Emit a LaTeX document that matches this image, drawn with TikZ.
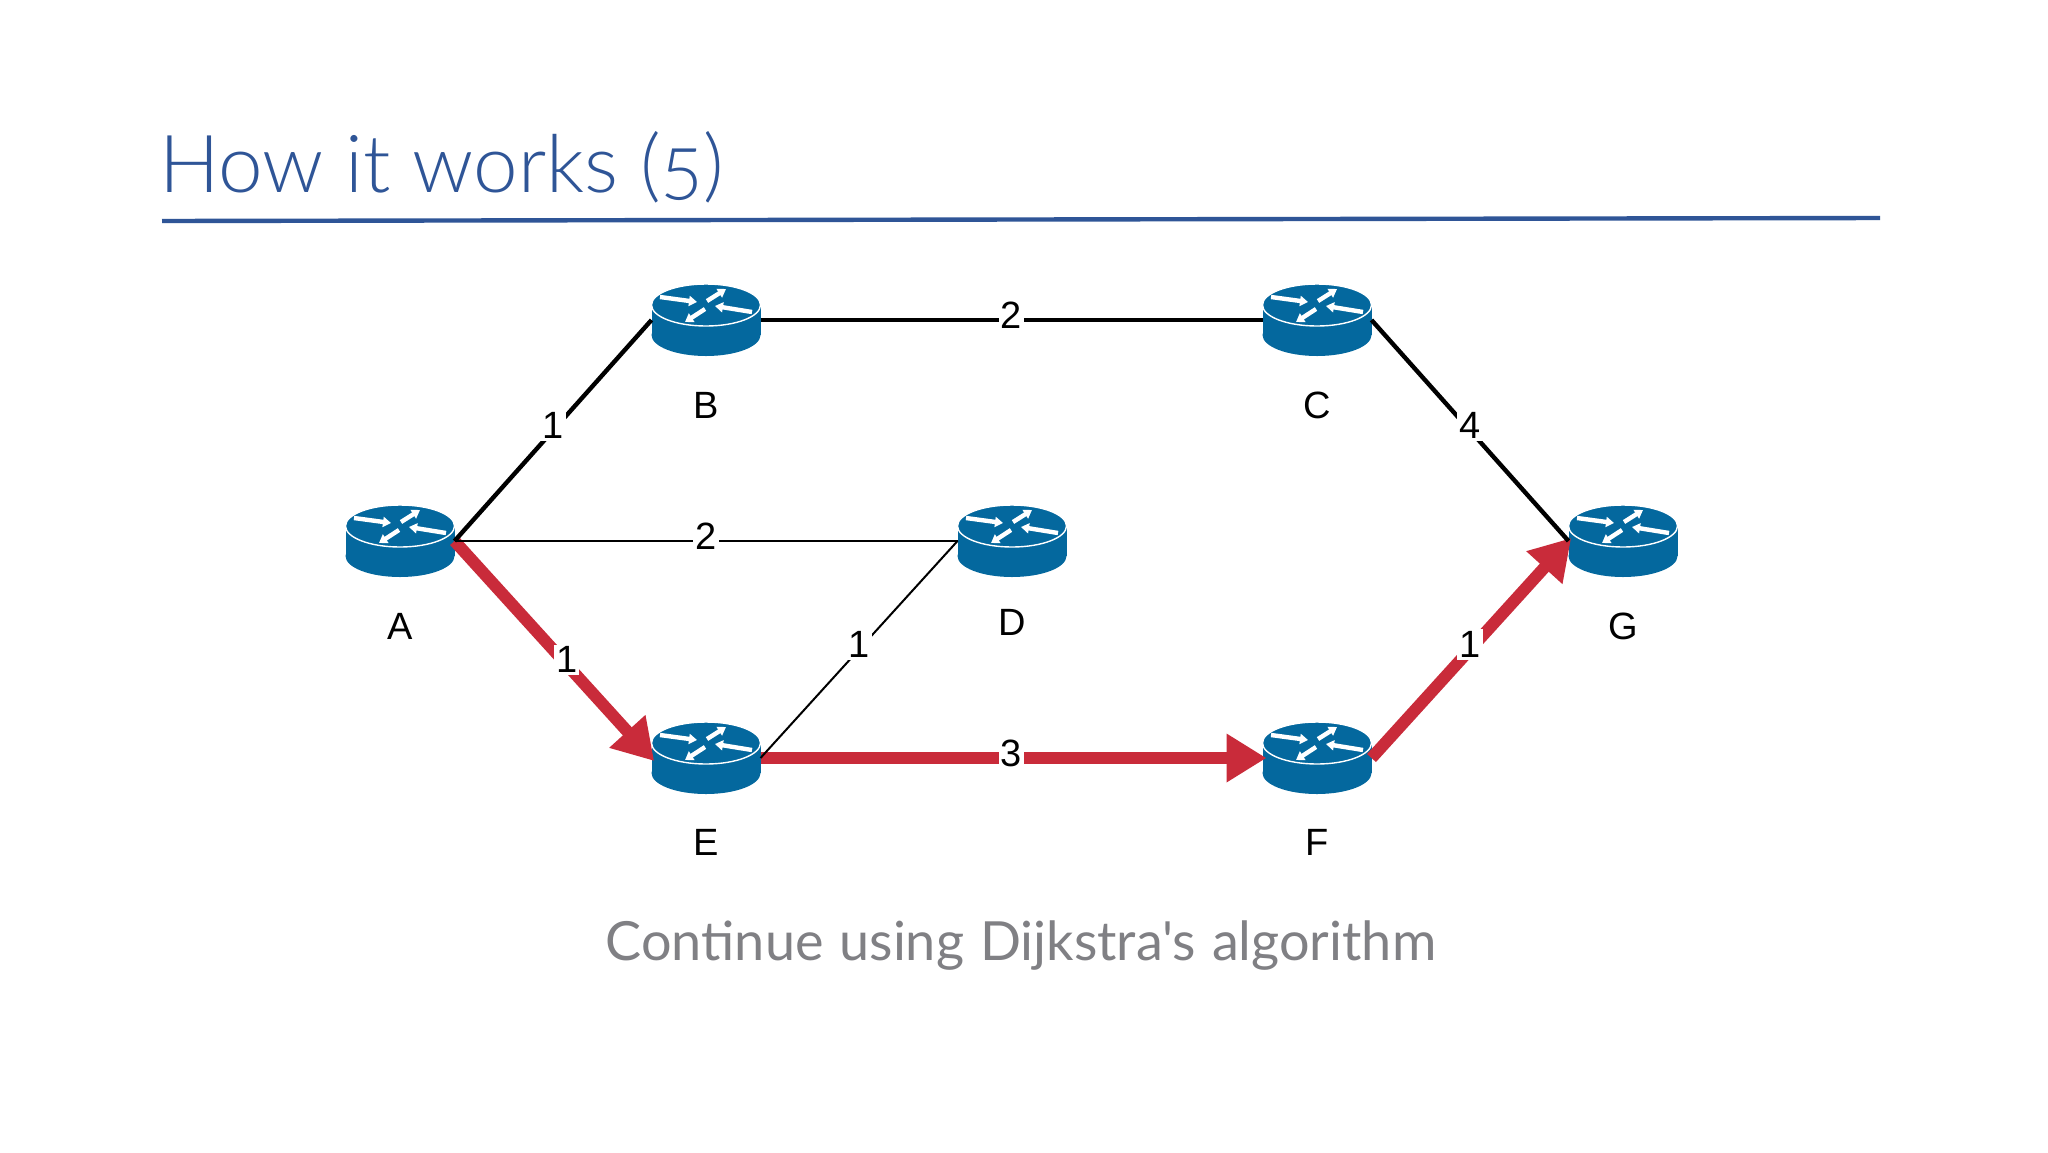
\documentclass[tikz,border=0pt]{standalone}
\usepackage{fontspec}
\setmainfont{Liberation Sans}
\newfontfamily\ttlfont{Lato Light}[Numbers=OldStyle]
\newfontfamily\capfont{Lato}[WordSpace=1.15]
\usetikzlibrary{arrows.meta}
\definecolor{ttl}{HTML}{2F5597}
\definecolor{rt}{HTML}{04689E}
\definecolor{rd}{HTML}{C92B3A}
\definecolor{capc}{HTML}{808084}
\tikzset{
  routerbox/.style={minimum width=54.5pt,minimum height=36pt,inner sep=0pt,outer sep=0pt},
  name label/.style={font=\fontsize{19}{21}\selectfont,inner sep=0pt},
  lbl/.style={font=\fontsize{19}{21}\selectfont,fill=white,inner sep=1pt,yshift=2.5pt},
  heavy/.style={line width=2.2pt,black},
  thinline/.style={line width=1pt,black},
  redpath/.style={line width=6pt,rd,shorten >=-2pt,-{Triangle[length=20pt,width=23pt]}},
  rarrow/.style={line width=2.2pt,white,-{Triangle[length=4pt,width=5pt]}},
  pics/router/.style={code={
    \fill[rt] (0,15) ellipse [x radius=54.5,y radius=21];
    \fill[rt] (-54.5,-15) rectangle (54.5,15);
    \draw[white,line width=.7pt,fill=rt] (0,-15) ellipse [x radius=54.5,y radius=21];
    \draw[rarrow] (-46,-23) -- (-9,-18);
    \draw[rarrow] (1,-19) -- (20,-31);
    \draw[rarrow] (46,-8) -- (9,-14);
    \draw[rarrow] (-1,-11) -- (-21,2);
  }}
}
\begin{document}
\begin{tikzpicture}[x=0.5pt,y=-0.5pt]
\useasboundingbox (0,0) rectangle (2048,1152);
\fill[white] (0,0) rectangle (2048,1152);
\node[anchor=base west,inner sep=0pt,text=ttl,font=\ttlfont\fontsize{40}{44}\selectfont] (title) at (159,192) {How it works (5)};
\coordinate (ruleL) at (162,221);
\coordinate (ruleR) at (1880,218);
\draw[ttl,line width=2.2pt] (ruleL) -- (ruleR);
\foreach \n/\x/\y in {A/400/541,B/706/320,C/1317/320,D/1012/541,E/706/758,F/1317/758,G/1623/541}{
  \node[routerbox] (\n) at (\x,\y) {};
  \pic at (\n) {router};
}
\node[name label] (lA) at (400,626) {A};
\node[name label] (lB) at (706,405) {B};
\node[name label] (lC) at (1317,405) {C};
\node[name label] (lD) at (1012,622) {D};
\node[name label] (lE) at (706,842) {E};
\node[name label] (lF) at (1317,842) {F};
\node[name label] (lG) at (1623,626) {G};
\draw[redpath] (A.east) -- node[pos=.57,lbl,text=black] (w1) {1} (E.west);
\draw[redpath] (E.east) -- node[lbl,text=black] (w2) {3} (F.west);
\draw[redpath] (F.east) -- node[lbl,text=black] (w3) {1} (G.west);
\draw[heavy] (A.east) -- node[lbl] (w4) {1} (B.west);
\draw[heavy] (B.east) -- node[lbl] (w5) {2} (C.west);
\draw[heavy] (C.east) -- node[lbl] (w6) {4} (G.west);
\draw[thinline] (A.east) -- node[lbl] (w7) {2} (D.west);
\draw[thinline] (E.east) -- node[lbl] (w8) {1} (D.west);
\node[anchor=base,inner sep=0pt,text=capc,font=\capfont\fontsize{27}{31}\selectfont] (cap) at (1021,960) {Continue using Dijkstra's algorithm};
\end{tikzpicture}
\end{document}
